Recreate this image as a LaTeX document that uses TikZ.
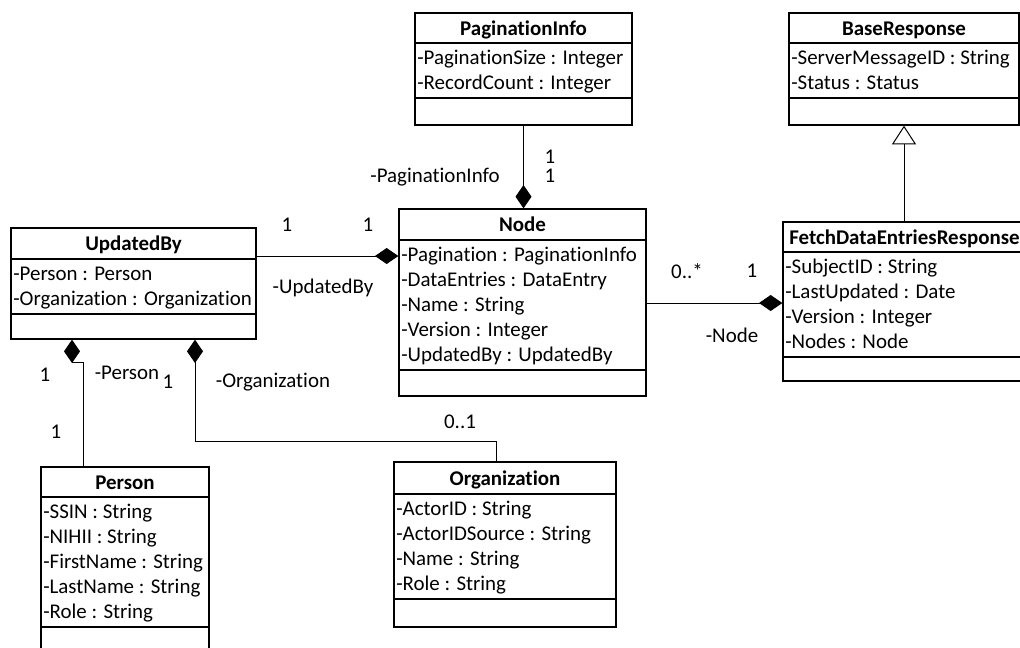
\documentclass[tikz,border=0pt]{standalone}
\usepackage{fontspec}
\setmainfont{Carlito}[Ligatures=NoCommon]
\usetikzlibrary{arrows.meta,fit,calc}
\newcommand\umlclass[9]{%
  \coordinate (#1-nw) at (#2,#3);
  \coordinate (#1-se) at (#4,#5);
  \node[box,fit=(#1-nw)(#1-se)] (#1) {};
  \draw[sepline] (#2,#6) -- (#4,#6);
  \draw[sepline] (#2,#7) -- (#4,#7);
  \node[classtitle] (#1-title) at ({(#2+#4)/2},{(#3+#6)/2+7}) {#8};
  \foreach \attrtext [count=\i from 0] in {#9} {
    \node[attr] (#1-a\i) at (#2+2,#6+21.5+25*\i) {\attrtext};
  }%
}
\begin{document}
\begin{tikzpicture}[x=0.75pt,y=-0.75pt,
  box/.style={draw,line width=1pt,inner sep=0pt},
  sepline/.style={line width=1pt},
  conn/.style={line width=0.75pt},
  comp/.style={conn,-{Diamond[length=17.5pt,width=12pt]}},
  gen/.style={conn,-{Triangle[open,length=14pt,width=18pt,fill=white]}},
  classtitle/.style={font=\fontsize{15.7}{18.75}\selectfont\bfseries,inner sep=0pt,anchor=base},
  attr/.style={font=\fontsize{15.7}{18.75}\selectfont,inner sep=0pt,anchor=base west},
  lbl/.style={font=\fontsize{15.7}{18.75}\selectfont,inner sep=0pt}]
\useasboundingbox (0,0) rectangle (1020,647);
\clip (0,0) rectangle (1020,647);

\umlclass{pag}{415}{13}{632}{125}{43}{98}{PaginationInfo}{-PaginationSize : Integer,-RecordCount : Integer}
\umlclass{base}{789}{13}{1019}{125}{43}{98}{BaseResponse}{-ServerMessageID : String,-Status : Status}
\umlclass{node}{399}{209}{646}{396}{240}{370}{Node}{-Pagination : PaginationInfo,-DataEntries : DataEntry,-Name : String,-Version : Integer,-UpdatedBy : UpdatedBy}
\umlclass{fder}{783}{222}{1026}{381}{252}{357}{FetchDataEntriesResponse}{-SubjectID : String,-LastUpdated : Date,-Version : Integer,-Nodes : Node}
\umlclass{ub}{11}{228}{256}{339}{259}{314}{UpdatedBy}{-Person : Person,-Organization : Organization}
\umlclass{per}{41}{467}{209}{660}{497}{627}{Person}{-SSIN : String,-NIHII : String,-FirstName : String,-LastName : String,-Role : String}
\umlclass{org}{394}{462}{616}{627}{494}{599}{Organization}{-ActorID : String,-ActorIDSource : String,-Name : String,-Role : String}

% connectors
\draw[comp] (pag.south) -- (pag.south |- node.north);
\draw[comp] (ub.east |- 0,256) -- (node.west |- 0,256);
\draw[comp] (node.east |- 0,303) -- (fder.west |- 0,303);
\draw[gen] (base.south |- fder.north) -- (base.south);
\draw[comp] (per.north -| 83,0) -- (83,362) -- (72,362) -- (ub.south -| 72,0);
\draw[comp] (org.north -| 496,0) -- (496,441) -- (195,441) -- (ub.south -| 195,0);

% labels
\node[lbl] (l1) at (550,157) {1};
\node[lbl] (l2) at (550,176) {1};
\node[lbl] (l3) at (435,177) {-PaginationInfo};
\node[lbl] (l4) at (287,225) {1};
\node[lbl] (l5) at (368,225) {1};
\node[lbl] (l6) at (323,288) {-UpdatedBy};
\node[lbl] (l7) at (687,271) {0..*};
\node[lbl] (l8) at (752,271) {1};
\node[lbl] (l9) at (732,335) {-Node};
\node[lbl] (l10) at (45,375) {1};
\node[lbl] (l11) at (127,373) {-Person};
\node[lbl] (l12) at (168,382) {1};
\node[lbl] (l13) at (273,382) {-Organization};
\node[lbl] (l14) at (56,432) {1};
\node[lbl] (l15) at (460,422) {0..1};
\end{tikzpicture}
\end{document}
